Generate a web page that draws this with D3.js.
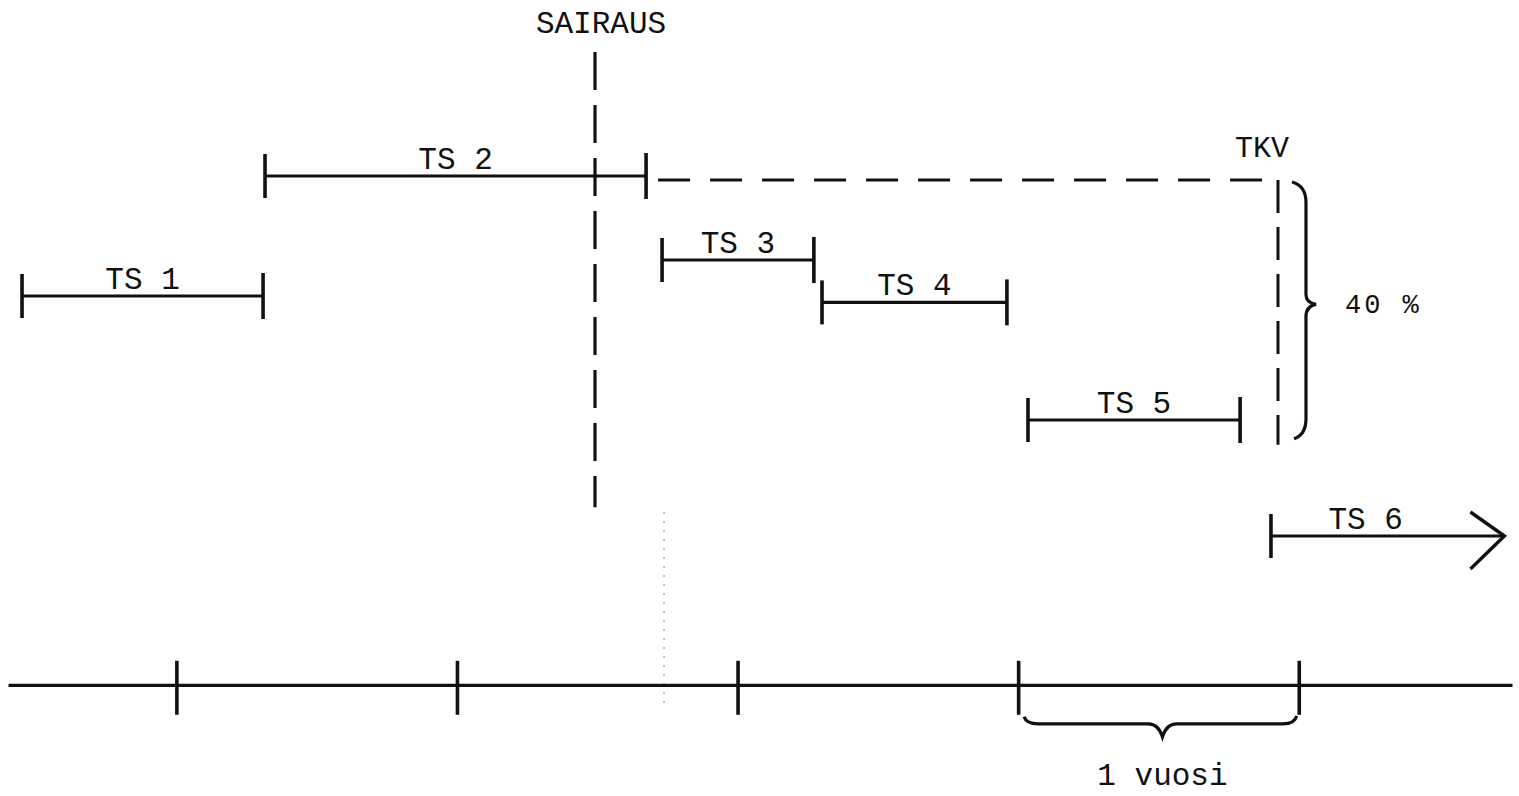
<!DOCTYPE html>
<html>
<head>
<meta charset="utf-8">
<script src="https://cdn.jsdelivr.net/npm/d3@7"></script>
<style>
  body { margin: 0; background: #fff; }
  text { font-family: "Liberation Mono", "DejaVu Sans Mono", monospace; fill: #111; }
</style>
</head>
<body>
<div id="chart"></div>
<script>
// time in years, rows in diagram units (0 = top)
var names = ['TS 1', 'TS 2', 'TS 3', 'TS 4', 'TS 5', 'TS 6'];
var starts = [-0.55, 0.316, 1.731, 2.301, 3.035, 3.901];
var ends = [0.309, 1.674, 2.272, 2.960, 3.791, 4.733];
var rows = [3.7, 2.2, 3.25, 3.78, 5.25, 6.7];
var yearTicks = [0, 1, 2, 3, 4];
var sairaus = 1.492, sairausRows = [0.65, 6.34];
var tkv = 3.926, tkvRows = [2.25, 5.56];
var linkRow = 2.25;
var axisRow = 8.56;
var faintT = 1.738, faintRows = [6.4, 8.85];

var width = 1519, height = 796;
var x = d3.scaleLinear().domain([-0.6, 4.76]).range([8, 1512]);
var y = d3.scaleLinear().domain([0, 10]).range([0, 800]);

var svg = d3.select("#chart").append("svg")
    .attr("width", width)
    .attr("height", height);

var ink = "#111";

// faint dotted trace from the scan
svg.append("line")
    .attr("x1", x(faintT)).attr("x2", x(faintT))
    .attr("y1", y(faintRows[0])).attr("y2", y(faintRows[1]))
    .attr("stroke", "#999").attr("stroke-width", 1.2)
    .attr("stroke-dasharray", "2,7");

// SAIRAUS dashed line
svg.append("line")
    .attr("x1", x(sairaus)).attr("x2", x(sairaus))
    .attr("y1", y(sairausRows[0])).attr("y2", y(sairausRows[1]))
    .attr("stroke", ink).attr("stroke-width", 3.2)
    .attr("stroke-dasharray", "38,15");
svg.append("text")
    .attr("x", x(sairaus) + 6).attr("y", 33)
    .attr("text-anchor", "middle")
    .style("font-size", "31px")
    .text("SAIRAUS");

// dashed link from TS 2 end to TKV, then down
svg.append("line")
    .attr("x1", x(ends[1]) + 12).attr("x2", x(tkv))
    .attr("y1", y(linkRow)).attr("y2", y(linkRow))
    .attr("stroke", ink).attr("stroke-width", 3)
    .attr("stroke-dasharray", "32,20");
svg.append("line")
    .attr("x1", x(tkv)).attr("x2", x(tkv))
    .attr("y1", y(tkvRows[0])).attr("y2", y(tkvRows[1]))
    .attr("stroke", ink).attr("stroke-width", 3)
    .attr("stroke-dasharray", "33,14");
svg.append("text")
    .attr("x", x(tkv) - 16).attr("y", 157)
    .attr("text-anchor", "middle")
    .style("font-size", "30px")
    .text("TKV");

// right brace (40 %)
var bx = x(tkv) + 14, bTop = y(tkvRows[0]) + 2, bBot = y(tkvRows[1]) - 6;
var bMid = (bTop + bBot) / 2 - 6;
var p = d3.path();
p.moveTo(bx, bTop);
p.quadraticCurveTo(bx + 14, bTop + 4, bx + 14, bTop + 20);
p.lineTo(bx + 14, bMid - 10);
p.quadraticCurveTo(bx + 14, bMid - 2, bx + 24, bMid);
p.quadraticCurveTo(bx + 14, bMid + 2, bx + 14, bMid + 12);
p.lineTo(bx + 14, bBot - 20);
p.quadraticCurveTo(bx + 14, bBot - 4, bx + 2, bBot);
svg.append("path").attr("d", p.toString())
    .attr("fill", "none").attr("stroke", ink).attr("stroke-width", 3.2);
svg.append("text")
    .attr("x", 1345).attr("y", bMid + 9)
    .style("font-size", "27px")
    .attr("letter-spacing", "3px")
    .text("40 %");

// period segments
var segs = svg.append("g").attr("class", "segments");
names.forEach(function (name, i) {
    var g = segs.append("g");
    var x0 = x(starts[i]), x1 = x(ends[i]), yy = y(rows[i]);
    g.append("line")
        .attr("x1", x0).attr("x2", x1)
        .attr("y1", yy).attr("y2", yy)
        .attr("stroke", ink).attr("stroke-width", 3.2);
    g.append("line")
        .attr("x1", x0).attr("x2", x0)
        .attr("y1", yy - 22).attr("y2", yy + 22)
        .attr("stroke", ink).attr("stroke-width", 3.6);
    if (i < names.length - 1) {
        g.append("line")
            .attr("x1", x1).attr("x2", x1)
            .attr("y1", yy - 23).attr("y2", yy + 23)
            .attr("stroke", ink).attr("stroke-width", 3.6);
    } else {
        // open arrow head
        g.append("path")
            .attr("d", "M" + (x1 - 34) + "," + (yy - 24) + "L" + x1 + "," + yy + "L" + (x1 - 34) + "," + (yy + 33))
            .attr("fill", "none").attr("stroke", ink).attr("stroke-width", 3.4);
    }
    var cx = i === 5 ? (x0 + x1) / 2 - 22 : (x0 + x1) / 2;
    g.append("text")
        .attr("x", cx).attr("y", yy - 7)
        .attr("text-anchor", "middle")
        .style("font-size", "31px")
        .text(name);
});

// time axis
var axis = svg.append("g")
    .attr("transform", "translate(0," + y(axisRow) + ")")
    .call(d3.axisBottom(x).tickValues(yearTicks).tickSize(30).tickSizeOuter(0).tickFormat(""));
axis.select(".domain").attr("stroke", ink).attr("stroke-width", 3.2);
axis.selectAll(".tick line")
    .attr("y1", -24)
    .attr("stroke", ink).attr("stroke-width", 3.6);

// one-year brace under the axis
var ax = y(axisRow);
var l = x(3) + 6, r = x(4) - 4, m = (l + r) / 2 + 3;
var q = d3.path();
q.moveTo(l, ax + 32);
q.quadraticCurveTo(l + 2, ax + 39, l + 14, ax + 39);
q.lineTo(m - 14, ax + 39);
q.quadraticCurveTo(m - 4, ax + 39, m, ax + 52);
q.quadraticCurveTo(m + 4, ax + 39, m + 14, ax + 39);
q.lineTo(r - 12, ax + 39);
q.quadraticCurveTo(r, ax + 39, r + 2, ax + 31);
svg.append("path").attr("d", q.toString())
    .attr("fill", "none").attr("stroke", ink).attr("stroke-width", 3.2);
svg.append("text")
    .attr("x", m).attr("y", 785)
    .attr("text-anchor", "middle")
    .style("font-size", "31px")
    .text("1 vuosi");
</script>
</body>
</html>
